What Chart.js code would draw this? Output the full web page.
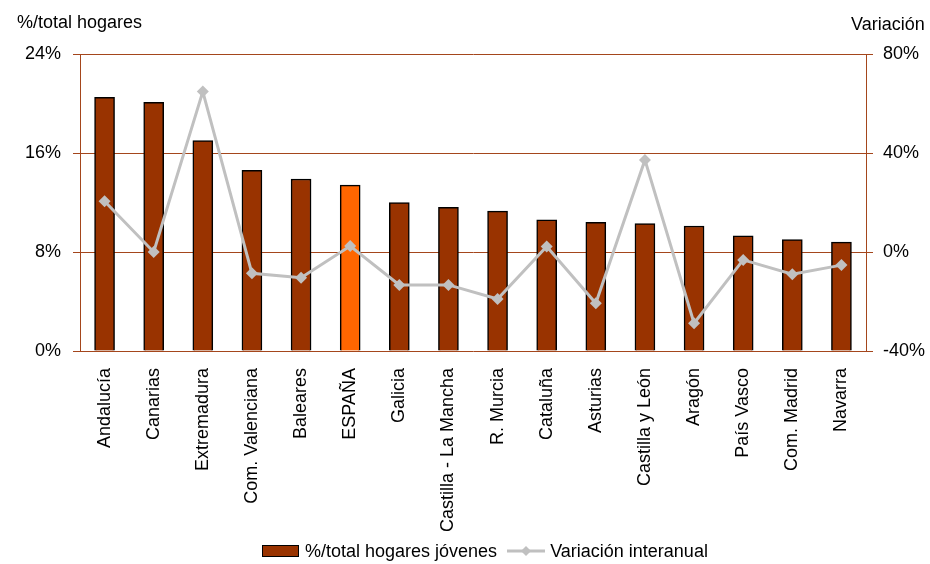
<!DOCTYPE html>
<html>
<head>
<meta charset="utf-8">
<script src="https://cdn.jsdelivr.net/npm/chart.js@4/dist/chart.umd.min.js"></script>
<style>
body { margin: 0; background: #fff; font-family: "Liberation Sans", Arial, sans-serif; }
#wrap { position: relative; width: 930px; height: 564px; }
#legend { position: absolute; left: 262px; top: 540px; height: 22px; display: flex; align-items: center; font-size: 18px; color: #000; white-space: nowrap; }
.box { width: 35px; height: 10px; background: #993300; border: 1px solid #000; margin-right: 6px; }
.lin { margin: 0 5px 0 10px; }
</style>
</head>
<body>
<div id="wrap">
<canvas id="myChart" width="930" height="564"></canvas>
<div id="legend">
  <div class="box"></div><span>%/total hogares jóvenes</span>
  <svg class="lin" width="38" height="14"><line x1="0" y1="7" x2="38" y2="7" stroke="#c0c0c0" stroke-width="3"/><polygon points="19,2 24,7 19,12 14,7" fill="#c0c0c0"/></svg><span>Variación interanual</span>
</div>
</div>
<script>
var regiones = ["Andalucía", "Canarias", "Extremadura", "Com. Valenciana", "Baleares", "ESPAÑA", "Galicia", "Castilla - La Mancha", "R. Murcia", "Cataluña", "Asturias", "Castilla y León", "Aragón", "País Vasco", "Com. Madrid", "Navarra"];
var hogares = [20.5, 20.1, 17.0, 14.6, 13.9, 13.4, 12.0, 11.6, 11.3, 10.6, 10.4, 10.3, 10.1, 9.3, 9.0, 8.8];
var variacion = [20.5, 0, 64.8, -8.6, -10.4, 2.4, -13.3, -13.3, -19.0, 2.2, -20.7, 37.2, -28.8, -3.2, -9.0, -5.3];
var barColors = regiones.map(function(r){ return r == "ESPAÑA" ? "#ff6600" : "#993300"; });

var brown = "#a4461c";
var fontFam = "'Liberation Sans', Arial, sans-serif";

var titles = {
    id: "titles",
    afterDraw: function(chart){
        var ctx = chart.ctx;
        ctx.save();
        ctx.fillStyle = "#000";
        ctx.font = "18px " + fontFam;
        ctx.textBaseline = "alphabetic";
        ctx.textAlign = "left";
        ctx.fillText("%/total hogares", 17, 28);
        ctx.fillText("Variación", 851, 30);
        ctx.restore();
    }
};

new Chart("myChart", {
    type: "bar",
    data: {
        labels: regiones,
        datasets: [{
            type: "line",
            label: "Variación interanual",
            data: variacion,
            yAxisID: "y1",
            borderColor: "#c0c0c0",
            backgroundColor: "#c0c0c0",
            borderWidth: 3,
            pointStyle: "rectRot",
            pointRadius: 6,
            pointBorderWidth: 0,
            pointBackgroundColor: "#c0c0c0",
            tension: 0,
            order: 0
        }, {
            label: "%/total hogares jóvenes",
            data: hogares,
            yAxisID: "y",
            backgroundColor: barColors,
            borderColor: "#000",
            borderWidth: 1.5,
            barThickness: 20,
            order: 1
        }]
    },
    options: {
        responsive: false,
        animation: false,
        layout: { padding: { top: 54, left: 0, right: 0, bottom: 0 } },
        plugins: {
            legend: { display: false },
            tooltip: { enabled: false }
        },
        scales: {
            x: {
                grid: { display: false },
                border: { display: false },
                ticks: {
                    color: "#000",
                    font: { size: 18, family: fontFam },
                    maxRotation: 90,
                    minRotation: 90,
                    autoSkip: false,
                    padding: 9
                },
                afterFit: function(s){ s.height = 213; }
            },
            y: {
                position: "left",
                min: 0,
                max: 24,
                ticks: {
                    stepSize: 8,
                    color: "#000",
                    font: { size: 18, family: fontFam },
                    padding: 12,
                    callback: function(v){ return v + "%"; }
                },
                grid: { color: brown, lineWidth: 1, tickLength: 7 },
                border: { color: brown, width: 1 },
                afterFit: function(s){ s.width = 80; }
            },
            y1: {
                position: "right",
                min: -40,
                max: 80,
                ticks: {
                    stepSize: 40,
                    color: "#000",
                    font: { size: 18, family: fontFam },
                    padding: 10,
                    callback: function(v){ return v + "%"; }
                },
                grid: { drawOnChartArea: false, color: brown, tickLength: 7 },
                border: { color: brown, width: 1 },
                afterFit: function(s){ s.width = 64; }
            }
        }
    },
    plugins: [titles]
});
</script>
</body>
</html>
